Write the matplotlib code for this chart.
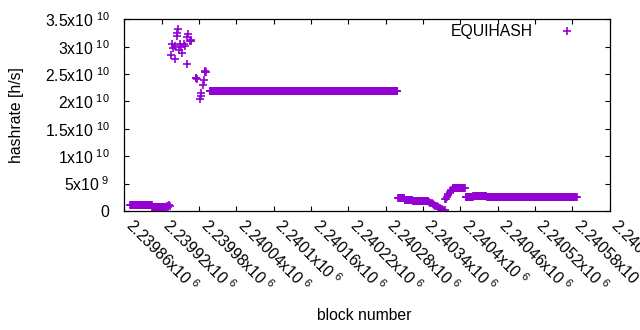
import numpy as np
import matplotlib
matplotlib.use("Agg")
import matplotlib.pyplot as plt
from matplotlib.transforms import ScaledTranslation

plt.rcParams["font.family"] = "Liberation Sans"
plt.rcParams["mathtext.fontset"] = "custom"
plt.rcParams["mathtext.rm"] = "Liberation Sans"

# stretches where every block has the same hashrate: first block, last block, value
run_first = [2239869, 2239905, 2239997, 2240300, 2240311, 2240324,
             2240389, 2240409, 2240421, 2240429, 2240443]
run_last = [2239904, 2239925, 2240299, 2240310, 2240323, 2240348,
            2240407, 2240420, 2240428, 2240442, 2240587]
run_hash = [1.08e9, 0.7e9, 2.2e10, 2.32e9, 2.08e9, 1.88e9,
            4.12e9, 2.52e9, 2.8e9, 2.65e9, 2.5e9]

# single blocks outside those stretches
single_block = [
    2239927, 2239929, 2239931, 2239932, 2239934,
    2239935, 2239936, 2239939, 2239941, 2239942, 2239944, 2239945, 2239946,
    2239948, 2239950, 2239951, 2239953, 2239956, 2239957, 2239960, 2239961,
    2239962, 2239966, 2239967, 2239968, 2239975, 2239976, 2239977, 2239981,
    2239983, 2239984, 2239987, 2239988, 2239989, 2239990, 2239991,
    2240350, 2240352, 2240354, 2240356, 2240358, 2240360, 2240362, 2240364,
    2240366, 2240368, 2240370, 2240371, 2240373, 2240375,
    2240376, 2240377, 2240378, 2240380, 2240381, 2240383, 2240384, 2240386,
    2240388,
]
single_hash = [
    0.8e9, 0.95e9, 0.75e9, 1.1e9, 0.97e9,
    2.85e10, 3.05e10, 2.98e10, 2.77e10, 3.01e10, 3.19e10, 3.25e10, 3.32e10,
    2.94e10, 3.05e10, 2.99e10, 2.89e10, 3.05e10, 3.02e10, 2.68e10, 3.17e10,
    3.23e10, 3.11e10, 3.10e10, 3.12e10, 2.42e10, 2.43e10, 2.41e10, 2.04e10,
    2.10e10, 2.16e10, 2.30e10, 2.39e10, 2.54e10, 2.55e10, 2.53e10,
    1.7e9, 1.5e9, 1.38e9, 1.26e9, 1.12e9, 1.0e9, 0.88e9, 0.72e9,
    0.58e9, 0.46e9, 0.3e9, 0.18e9, 0.1e9, 0.12e9,
    2.1e9, 2.28e9, 2.6e9, 2.85e9, 3.07e9, 3.3e9, 3.5e9, 3.8e9,
    3.98e9,
]

x_ticks = [2239860, 2239920, 2239980, 2240040, 2240100, 2240160, 2240220,
           2240280, 2240340, 2240400, 2240460, 2240520, 2240580, 2240640]
x_tick_labels = ["2.23986", "2.23992", "2.23998", "2.24004", "2.2401", "2.24016",
                 "2.24022", "2.24028", "2.24034", "2.2404", "2.24046", "2.24052",
                 "2.24058", "2.24064"]
y_ticks = [0, 5e9, 1e10, 1.5e10, 2e10, 2.5e10, 3e10, 3.5e10]
y_tick_mant = ["0", "5", "1", "1.5", "2", "2.5", "3", "3.5"]
y_tick_exp = ["", "9", "10", "10", "10", "10", "10", "10"]

blocks = np.concatenate([np.arange(a, b + 1) for a, b in zip(run_first, run_last)]
                        + [np.array(single_block)])
hashes = np.concatenate([np.full(b - a + 1, h) for a, b, h in zip(run_first, run_last, run_hash)]
                        + [np.array(single_hash)])

fig = plt.figure(figsize=(6.4, 3.3), dpi=100)
ax = fig.add_axes([124.3 / 640, 1 - 211 / 330, 485.2 / 640, 191.7 / 330])

ax.plot(blocks, hashes, "+", ls="none", color="#9400d3", ms=5.8, mew=1.2,
        label="EQUIHASH")

ax.set_xlim(x_ticks[0], x_ticks[-1])
ax.set_ylim(y_ticks[0], y_ticks[-1])

ax.set_xticks(x_ticks)
ax.set_xticklabels([r"$\mathregular{%sx10^{\ 6}}$" % s for s in x_tick_labels],
                   rotation=-45, ha="left", va="baseline", rotation_mode="anchor")
# nudge the slanted labels so they start right at their tick
shift = ScaledTranslation(-3 / 100, 0, fig.dpi_scale_trans)
for lbl in ax.get_xticklabels():
    lbl.set_transform(lbl.get_transform() + shift)
ax.set_yticks(y_ticks)
ax.set_yticklabels([m if not e else r"$\mathregular{%sx10^{\ %s}}\ $" % (m, e)
                    for m, e in zip(y_tick_mant, y_tick_exp)])

ax.tick_params(direction="in", length=3.8, width=0.8, top=True, right=True,
               labelsize=11.3, colors="black")
ax.tick_params(axis="x", pad=11)
ax.tick_params(axis="y", pad=10.5)
for s in ax.spines.values():
    s.set_linewidth(0.9)

fig.text(17 / 640, 1 - 115 / 330, "hashrate [h/s]", rotation=90,
         ha="center", va="center", fontsize=11.3)
fig.text(364 / 640, 1 - 315 / 330, "block number", ha="center", va="center",
         fontsize=11.3)

ax.legend(loc="center right", bbox_to_anchor=(0.9448, 0.934), frameon=False,
          markerfirst=False, numpoints=1, handlelength=2.0, handletextpad=1.17,
          borderpad=0, borderaxespad=0, fontsize=11.3)

fig.savefig("out.png", dpi=100)
